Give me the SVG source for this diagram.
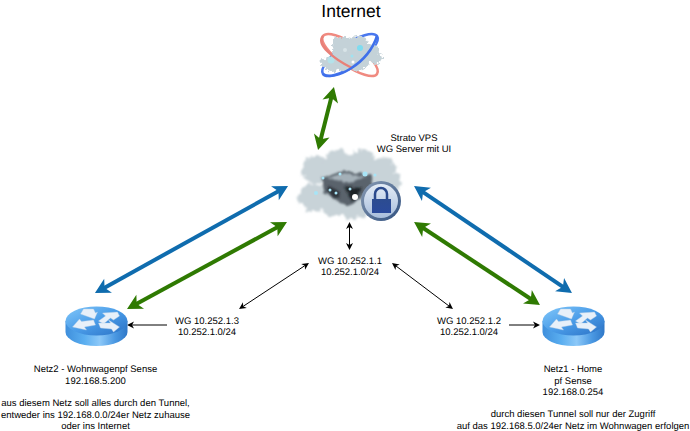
<svg xmlns="http://www.w3.org/2000/svg" xmlns:xlink="http://www.w3.org/1999/xlink" width="690" height="431" viewBox="0 0 690 431">
<style>
text{font-family:"Liberation Sans",Arial,sans-serif;font-size:9.5px;fill:#000;text-anchor:middle;text-rendering:geometricPrecision}
.big{fill:none;stroke-width:4}
.blue{stroke:#0f6cae}.green{stroke:#2f7a02}
.small{fill:none;stroke:#000;stroke-width:1}
.ra{fill:#e8f0f9;stroke:#b4cce6;stroke-width:.4}
</style>
<defs>
<marker id="hb" markerUnits="userSpaceOnUse" markerWidth="20" markerHeight="20" viewBox="-1 -10 20 20" refX="5" refY="0" orient="auto-start-reverse"><path d="M0,-8 L15,0 L0,8 L4,0z" fill="#0f6cae"/></marker>
<marker id="hg" markerUnits="userSpaceOnUse" markerWidth="20" markerHeight="20" viewBox="-1 -10 20 20" refX="5" refY="0" orient="auto-start-reverse"><path d="M0,-8 L15,0 L0,8 L4,0z" fill="#2f7a02"/></marker>
<marker id="hk" markerUnits="userSpaceOnUse" markerWidth="10" markerHeight="10" viewBox="-1 -5 10 10" refX="2" refY="0" orient="auto-start-reverse"><path d="M0,-3.500 L7,0 L0,3.500 L2,0z" fill="#000"/></marker>
<linearGradient id="side" x1="0" x2="1" y1="0" y2="0">
<stop offset="0" stop-color="#3f8fdc"/><stop offset=".3" stop-color="#5aaef0"/><stop offset=".55" stop-color="#8cc8f8"/><stop offset=".8" stop-color="#4a98e2"/><stop offset="1" stop-color="#2f78c8"/>
</linearGradient>
<linearGradient id="top" x1="0" x2="1" y1="0" y2="1">
<stop offset="0" stop-color="#82c8fa"/><stop offset=".5" stop-color="#4a9ce8"/><stop offset="1" stop-color="#2a70c4"/>
</linearGradient>
<linearGradient id="ring" x1="0" x2="1" y1="0" y2="1">
<stop offset="0" stop-color="#8a9cb4"/><stop offset="1" stop-color="#30507f"/>
</linearGradient>
<linearGradient id="disc" x1="0" x2="0" y1="0" y2="1">
<stop offset="0" stop-color="#e4ecf6"/><stop offset="1" stop-color="#a8bedc"/>
</linearGradient>
<linearGradient id="lockb" x1="0" x2="0" y1="0" y2="1">
<stop offset="0" stop-color="#2c4c90"/><stop offset="1" stop-color="#2a4a9c"/>
</linearGradient>
<filter id="rough" x="-15%" y="-15%" width="130%" height="130%">
<feTurbulence type="fractalNoise" baseFrequency=".18" numOctaves="3" seed="4" result="n"/>
<feDisplacementMap in="SourceGraphic" in2="n" scale="9" xChannelSelector="R" yChannelSelector="G"/>
<feGaussianBlur stdDeviation=".8"/>
</filter>
<filter id="rough2" x="-15%" y="-15%" width="130%" height="130%">
<feTurbulence type="fractalNoise" baseFrequency=".3" numOctaves="3" seed="9" result="n"/>
<feDisplacementMap in="SourceGraphic" in2="n" scale="6" xChannelSelector="R" yChannelSelector="G"/>
<feGaussianBlur stdDeviation=".5"/>
</filter>
<filter id="b2" x="-20%" y="-20%" width="140%" height="140%">
<feTurbulence type="fractalNoise" baseFrequency=".25" numOctaves="2" seed="2" result="n"/>
<feDisplacementMap in="SourceGraphic" in2="n" scale="5" xChannelSelector="R" yChannelSelector="G"/>
<feGaussianBlur stdDeviation="1"/>
</filter>
<filter id="b3" x="-50%" y="-50%" width="200%" height="200%"><feGaussianBlur stdDeviation=".6"/></filter>
<g id="router">
<path d="M-31,-10 V1 A31,14 0 0 0 31,1 V-10z" fill="url(#side)"/>
<ellipse cx="0" cy="-10" rx="31" ry="14.500" fill="url(#top)"/>
<path class="ra" d="M-24,-4 L-17,-12 L-15,-9.500 L-3,-11 L-1,-6 L-12,-4 L-10,-1z"/>
<path class="ra" d="M-2,-12 L-16,-17 L-13,-22 L-3,-22 L-1,-18 L1,-19z"/>
<path class="ra" d="M2,-10 L9,-15 L6,-18 L21,-19 L23,-15 L17,-11 L14,-13 L7,-7z"/>
<path class="ra" d="M2,-8 L14,-8 L12,-11 L23,-4 L17,1 L15,-2 L4,-3z"/>
</g>
</defs>
<rect width="690" height="431" fill="#fff"/>

<g id="connectors">
<line class="big green" x1="331.500" y1="96.700" x2="320.500" y2="140.300" marker-start="url(#hg)" marker-end="url(#hg)"/>
<line class="big blue" x1="279.300" y1="190.800" x2="103.700" y2="288.200" marker-start="url(#hb)" marker-end="url(#hb)"/>
<line class="big green" x1="278.200" y1="226.800" x2="135.800" y2="304.200" marker-start="url(#hg)" marker-end="url(#hg)"/>
<line class="big blue" x1="422.300" y1="191.600" x2="563.700" y2="287.400" marker-start="url(#hb)" marker-end="url(#hb)"/>
<line class="big green" x1="422.400" y1="227.500" x2="531.600" y2="299.500" marker-start="url(#hg)" marker-end="url(#hg)"/>
<line class="small" x1="349.500" y1="227" x2="349.500" y2="245" marker-start="url(#hk)" marker-end="url(#hk)"/>
<line class="small" x1="304.800" y1="265.700" x2="243.200" y2="306.300" marker-start="url(#hk)" marker-end="url(#hk)"/>
<line class="small" x1="396" y1="266" x2="449" y2="306" marker-start="url(#hk)" marker-end="url(#hk)"/>
<line class="small" x1="167" y1="325" x2="132" y2="325" marker-end="url(#hk)"/>
<line class="small" x1="509" y1="325" x2="535" y2="325" marker-end="url(#hk)"/>
</g>

<g id="node-internet">
<text x="351" y="17" style="font-size:17.500px">Internet</text>
<ellipse cx="350" cy="55" rx="33" ry="11" transform="rotate(35 350 55)" fill="none" stroke="#f08a80" stroke-width="2.500"/>
<ellipse cx="350" cy="55" rx="33" ry="11" transform="rotate(-35 350 55)" fill="none" stroke="#4a78ee" stroke-width="2.500"/>
<g filter="url(#rough2)" fill="#c4d2d8">
<circle cx="332" cy="64" r="8"/><circle cx="345" cy="50" r="13"/><circle cx="358" cy="47" r="11"/><circle cx="370" cy="52" r="9"/>
<circle cx="358" cy="60" r="11"/><circle cx="345" cy="63" r="9"/><circle cx="376" cy="58" r="6"/><circle cx="324" cy="63" r="4"/><circle cx="338" cy="42" r="5"/>
</g>
<g filter="url(#b3)">
<circle cx="360" cy="48" r="3" fill="#7fdcf0"/><circle cx="352" cy="56" r="1.500" fill="#9fe2f0"/><circle cx="331" cy="60" r="3.500" fill="#b4e2ea"/><circle cx="353" cy="62" r="1.500" fill="#fff"/><circle cx="345" cy="50" r="2" fill="#d8e4e8"/>
</g>
<path d="M323,36 C316,44 332,58 352,68" fill="none" stroke="#e88078" stroke-width="2.500"/>
<path d="M323,74 C334,82 368,64 377,36" fill="none" stroke="#3f70ea" stroke-width="2.500"/>
</g>

<g id="node-vps">
<text x="414" y="141">Strato VPS</text>
<text x="414" y="152">WG Server mit UI</text>
<g filter="url(#rough)" fill="#c8d3d8">
<circle cx="316" cy="170" r="14"/><circle cx="338" cy="165" r="15"/><circle cx="362" cy="163" r="14"/><circle cx="382" cy="171" r="14"/>
<circle cx="394" cy="182" r="8"/><circle cx="314" cy="198" r="14"/><circle cx="335" cy="202" r="14"/><circle cx="355" cy="195" r="23"/><circle cx="350" cy="209" r="9"/><circle cx="302" cy="200" r="5"/>
</g>
<path d="M322,178 L344,171 L372,175 L373,187 L354,204 L347,206 L324,193z" fill="#5a646c" filter="url(#b2)"/>
<path d="M326,178 L344,173 L366,177 L348,183z" fill="#a4b0b8" filter="url(#b2)"/>
<path d="M345,187 L352,203 L362,188z" fill="#1e2226" filter="url(#b2)"/>
<path d="M328,185 L340,192 L338,199 L328,192z" fill="#2e343a" filter="url(#b2)"/>
<g fill="#a8e4f6" filter="url(#b3)">
<circle cx="365" cy="174" r="2.500"/><circle cx="323" cy="178" r="1.500"/><circle cx="350" cy="189" r="1.500"/><circle cx="330" cy="190" r="1.500"/><circle cx="336" cy="193" r="1.500"/><circle cx="316" cy="193" r="2"/><circle cx="375" cy="175" r="1.500"/><circle cx="340" cy="174" r="1.500"/>
</g>
<circle cx="355" cy="197" r="3" fill="#fff" filter="url(#b3)"/>
<circle cx="381" cy="201" r="20" fill="url(#ring)"/>
<circle cx="381" cy="201" r="17" fill="url(#disc)"/>
<path d="M375,199 V194 A6,6 0 0 1 387,194 V199" fill="none" stroke="#2b4a8c" stroke-width="2.500"/>
<rect x="372" y="199" width="19" height="14" fill="url(#lockb)"/>
</g>

<g id="node-wg-server-label">
<text x="350" y="264">WG 10.252.1.1</text>
<text x="350" y="275">10.252.1.0/24</text>
</g>

<g id="node-wohnwagen">
<use href="#router" xlink:href="#router" x="96.500" y="331"/>
<text x="207" y="324">WG 10.252.1.3</text>
<text x="207" y="335">10.252.1.0/24</text>
<text x="95.500" y="372">Netz2 - Wohnwagenpf Sense</text>
<text x="95.500" y="383.500">192.168.5.200</text>
<text x="95.500" y="406">aus diesem Netz soll alles durch den Tunnel,</text>
<text x="95.500" y="417.500">entweder ins 192.168.0.0/24er Netz zuhause</text>
<text x="95.500" y="429">oder ins Internet</text>
</g>

<g id="node-home">
<use href="#router" xlink:href="#router" x="573.500" y="331"/>
<text x="469" y="324">WG 10.252.1.2</text>
<text x="469" y="335">10.252.1.0/24</text>
<text x="573" y="372">Netz1 - Home</text>
<text x="573" y="383.500">pf Sense</text>
<text x="573" y="395">192.168.0.254</text>
<text x="573" y="417">durch diesen Tunnel soll nur der Zugriff</text>
<text x="573" y="428.500">auf das 192.168.5.0/24er Netz im Wohnwagen erfolgen</text>
</g>
</svg>
